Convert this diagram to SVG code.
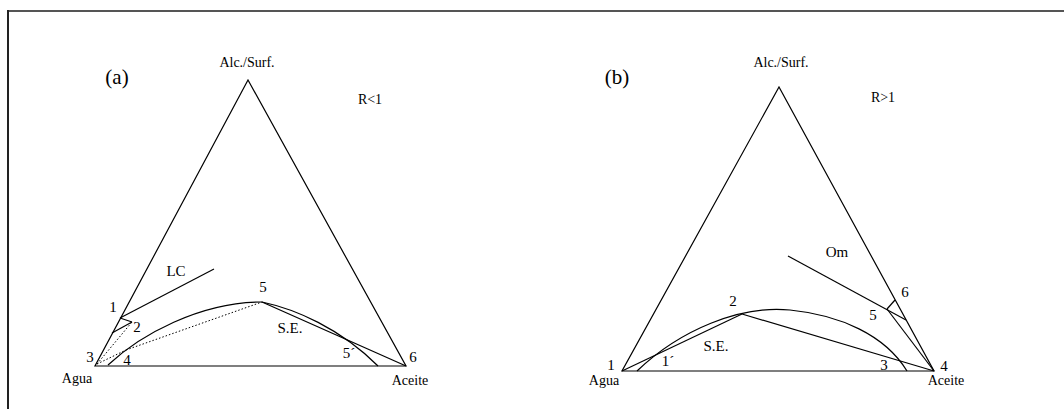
<svg xmlns="http://www.w3.org/2000/svg" width="1064" height="409" viewBox="0 0 1064 409">
<style>
.ln{stroke:#000;stroke-width:1.2;fill:none}
.dt{stroke:#000;stroke-width:1;fill:none;stroke-dasharray:1.5 2}
.t{font-family:"Liberation Serif","Times New Roman",serif;font-size:14px;fill:#000;text-anchor:middle}
.n{font-family:"Liberation Serif","Times New Roman",serif;font-size:15px;fill:#000;text-anchor:middle}
.big{font-family:"Liberation Serif","Times New Roman",serif;font-size:21px;fill:#000;text-anchor:middle}
</style>
<rect width="1064" height="409" fill="#fff"/>
<g id="frame">
<line x1="8" y1="11" x2="1064" y2="11" stroke="#555" stroke-width="2"/>
<line x1="8" y1="10" x2="8" y2="409" stroke="#222" stroke-width="2"/>
</g>
<g id="diagram-a">
<g id="triangle-a"><polygon class="ln" points="95,366 406,366 248,80"/></g>
<g id="connectors-a">
<line class="ln" x1="120" y1="318" x2="214" y2="269"/>
<line class="ln" x1="120" y1="318" x2="132" y2="322"/>
<line class="ln" x1="112" y1="333" x2="132" y2="322"/>
<line class="dt" x1="97" y1="364" x2="132" y2="322"/>
<line class="dt" x1="97" y1="364" x2="126" y2="350"/>
<line class="dt" x1="126" y1="350" x2="262" y2="302"/>
<path class="ln" d="M108 365 C140 335 200 302 262 302"/>
<path class="ln" d="M262 302 C295 309 340 328 378 366"/>
<line class="ln" x1="262" y1="302" x2="406" y2="366"/>
</g>
<g id="labels-a">
<text class="big" x="117" y="84">(a)</text>
<text class="t" x="247" y="67">Alc./Surf.</text>
<text class="t" x="370" y="104">R&lt;1</text>
<text class="n" x="176" y="276">LC</text>
<text class="n" x="113" y="312">1</text>
<text class="n" x="137" y="332">2</text>
<text class="n" x="90" y="362">3</text>
<text class="n" x="127" y="365">4</text>
<text class="n" x="263" y="292">5</text>
<text class="n" x="290" y="333">S.E.</text>
<text class="n" x="349" y="358">5´</text>
<text class="n" x="413" y="362">6</text>
<text class="t" x="77" y="383">Agua</text>
<text class="t" x="410" y="385">Aceite</text>
</g>
</g>
<g id="diagram-b">
<g id="triangle-b"><polygon class="ln" points="622,371 934,371 779,87"/></g>
<g id="connectors-b">
<path class="ln" d="M637 371 C680 330 740 305 790 310 C840 315 885 335 907 371"/>
<line class="ln" x1="622" y1="371" x2="742" y2="314"/>
<line class="ln" x1="742" y1="314" x2="934" y2="371"/>
<line class="ln" x1="788" y1="256" x2="906" y2="320"/>
<line class="ln" x1="887" y1="309" x2="895" y2="300"/>
<line class="ln" x1="887" y1="309" x2="934" y2="371"/>
</g>
<g id="labels-b">
<text class="big" x="617" y="84">(b)</text>
<text class="t" x="781" y="67">Alc./Surf.</text>
<text class="t" x="883" y="102">R&gt;1</text>
<text class="n" x="837" y="257">Om</text>
<text class="n" x="905" y="297">6</text>
<text class="n" x="873" y="320">5</text>
<text class="n" x="733" y="306">2</text>
<text class="n" x="716" y="351">S.E.</text>
<text class="n" x="668" y="366">1´</text>
<text class="n" x="611" y="370">1</text>
<text class="n" x="884" y="370">3</text>
<text class="n" x="944" y="371">4</text>
<text class="t" x="604" y="385">Agua</text>
<text class="t" x="946" y="385">Aceite</text>
</g>
</g>
</svg>
